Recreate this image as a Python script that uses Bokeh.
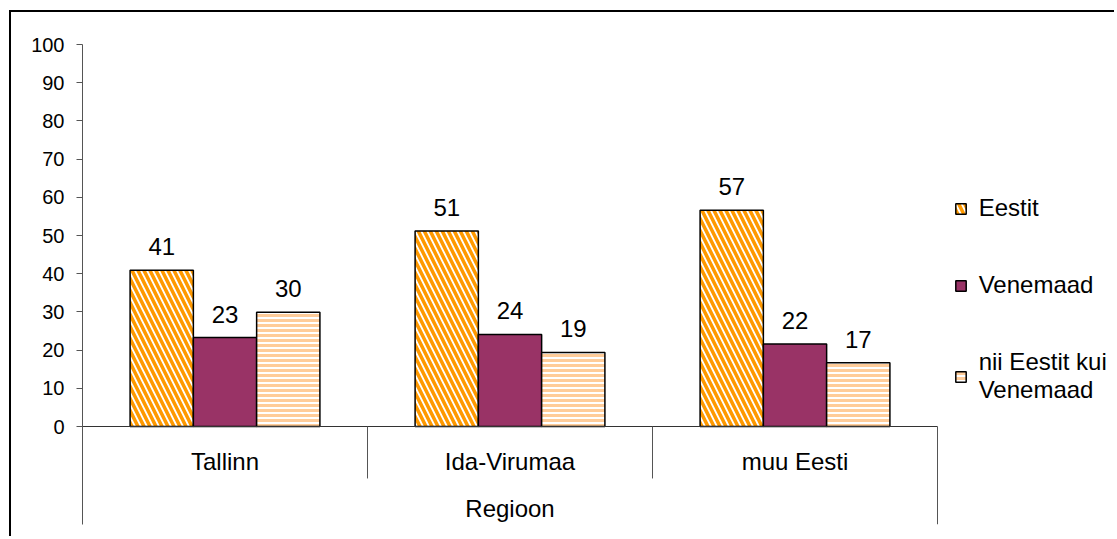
from bokeh.plotting import figure
from bokeh.models import (Range1d, FixedTicker, ColumnDataSource,
                          LabelSet, Legend, LegendItem)
from bokeh.transform import dodge
from bokeh.core.properties import value
from bokeh.embed import file_html
from bokeh.resources import INLINE

# ---- data ----
regions = ["Tallinn", "Ida-Virumaa", "muu Eesti"]
series_names = ["Eestit", "Venemaad", "nii Eestit kui\nVenemaad"]
eestit = [40.9, 51.2, 56.6]
venemaad = [23.3, 24.1, 21.6]
molemad = [29.9, 19.4, 16.7]
y_ticks = [0, 10, 20, 30, 40, 50, 60, 70, 80, 90, 100]
x_title = "Regioon"

FONT = "Liberation Sans"
FS = "24px"
FS_TICK = "20px"

n = len(regions)
src = ColumnDataSource(dict(
    region=regions,
    xc=[i + 0.5 for i in range(n)],          # category centres on the axis
    eestit=eestit, venemaad=venemaad, molemad=molemad,
    t_eestit=[f"{round(v)}" for v in eestit],
    t_venemaad=[f"{round(v)}" for v in venemaad],
    t_molemad=[f"{round(v)}" for v in molemad],
    zero=[0] * n,
))

# frame: 855 px for the three categories, extended to the right for the legend
W, H = 1105, 526
frame_w = W - 71
p = figure(width=W, height=H,
           x_range=Range1d(0, n * frame_w / 855),
           y_range=Range1d(-25.65, 100),
           output_backend="svg", toolbar_location=None,
           x_axis_location=None,
           min_border_left=71, min_border_right=0,
           min_border_top=32, min_border_bottom=14)
p.margin = (10, 0, 0, 9)
p.styles = {"border-left": "2px solid black", "border-top": "2px solid black"}
p.outline_line_color = None
p.xgrid.visible = False
p.ygrid.visible = False
p.background_fill_color = "white"
p.border_fill_color = "white"

# y axis
ya = p.yaxis[0]
ya.ticker = FixedTicker(ticks=y_ticks)
ya.minor_tick_line_color = None
ya.major_tick_in = 0
ya.major_tick_out = 6
ya.major_label_standoff = 12
ya.axis_line_color = "#555555"
ya.major_tick_line_color = "#555555"
ya.major_label_text_font = FONT
ya.major_label_text_font_size = FS_TICK
ya.major_label_text_color = "black"

w = 0.222
common = dict(source=src, width=w, line_color="black", line_width=1.5)
r1 = p.vbar(x=dodge("xc", -w), top="eestit",
            fill_color="white", hatch_pattern="\\", hatch_color="#FF9900",
            hatch_scale=12, hatch_weight=3.5, **common)
r2 = p.vbar(x=dodge("xc", 0), top="venemaad",
            fill_color="#993366", **common)
r3 = p.vbar(x=dodge("xc", w), top="molemad",
            fill_color="white", hatch_pattern="-", hatch_color="#FFCC99",
            hatch_scale=5, hatch_weight=3, **common)

# value labels
for off, col, tcol in [(-w, "eestit", "t_eestit"), (0, "venemaad", "t_venemaad"),
                       (w, "molemad", "t_molemad")]:
    p.add_layout(LabelSet(x=dodge("xc", off), y=col, text=tcol,
                          source=src, y_offset=15, text_align="center",
                          text_baseline="alphabetic", text_font=value(FONT),
                          text_font_size=value(FS), text_color="black"))

# category axis (baseline, separators, labels, title)
y0 = p.y_range.start
p.segment(x0=[0], x1=[n], y0=[0], y1=[0], line_color="#333333", line_width=1)
p.segment(x0=list(range(1, n + 1)), x1=list(range(1, n + 1)),
          y0=[0] * n, y1=[-13.6] * (n - 1) + [y0],
          line_color="#555555", line_width=1)
p.add_layout(LabelSet(x="xc", y="zero", text="region", source=src,
                      y_offset=-35, text_align="center", text_baseline="middle",
                      text_font=value(FONT), text_font_size=value(FS),
                      text_color="black"))
title_src = ColumnDataSource(dict(x=[n / 2], y=[0], t=[x_title]))
p.add_layout(LabelSet(x="x", y="y", text="t", source=title_src,
                      y_offset=-82, text_align="center", text_baseline="middle",
                      text_font=value(FONT), text_font_size=value(FS),
                      text_color="black"))

# legend
legend = Legend(items=[LegendItem(label=series_names[0], renderers=[r1]),
                       LegendItem(label=series_names[1], renderers=[r2]),
                       LegendItem(label=series_names[2], renderers=[r3])],
                location=(871.7, 120), orientation="vertical",
                glyph_width=13, glyph_height=13, label_standoff=12,
                spacing=49, padding=0, margin=0, label_height=22,
                border_line_color=None, background_fill_alpha=0,
                label_text_font=FONT, label_text_font_size=FS,
                label_text_line_height=0.95,
                label_text_color="black")
p.add_layout(legend, "center")

open("out.html", "w").write(file_html(p, INLINE))
